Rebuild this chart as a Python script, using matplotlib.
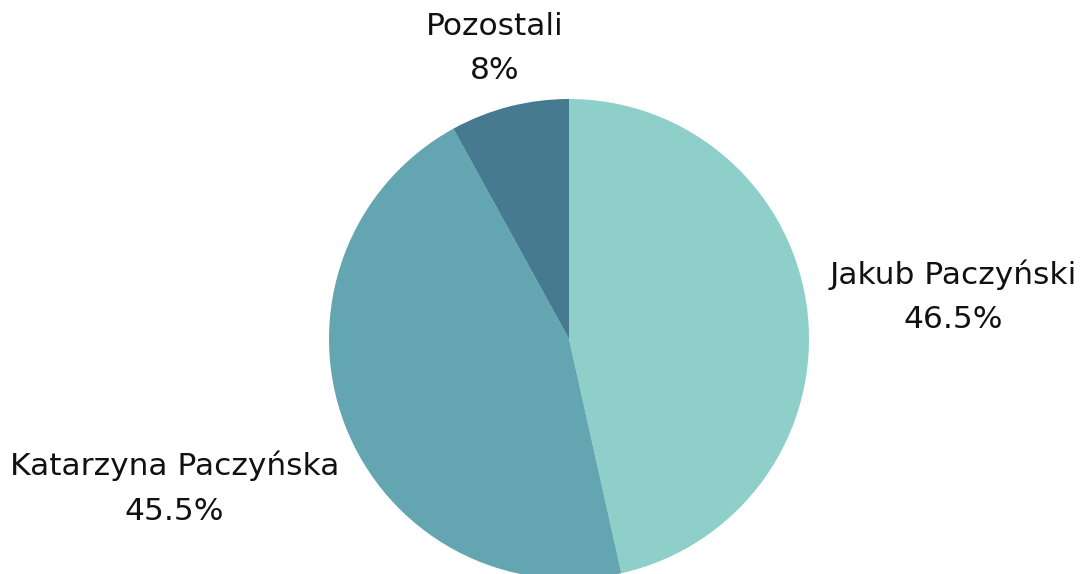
import numpy as np
import matplotlib.pyplot as plt

# Share of votes
names = ['Jakub Paczyński', 'Katarzyna Paczyńska', 'Pozostali']
shares = [46.5, 45.5, 8]
pct_labels = ['46.5%', '45.5%', '8%']
colors = ['#8ECFC9', '#63A5B0', '#457A91']
label_dist = [1.61, 1.757, 1.25]

plt.rcParams['font.family'] = ['DejaVu Sans']

fig = plt.figure(figsize=(10.87, 5.74), dpi=100)
ax = fig.add_axes([329 / 1087, -5 / 574, 480 / 1087, 480 / 574])

wedges, _ = ax.pie(shares, colors=colors, startangle=90, counterclock=False,
                   radius=1, wedgeprops=dict(linewidth=0))

for w, name, pct, d in zip(wedges, names, pct_labels, label_dist):
    ang = np.deg2rad((w.theta1 + w.theta2) / 2)
    ax.text(d * np.cos(ang), d * np.sin(ang), name + '\n' + pct,
            ha='center', va='center', fontsize=22.5, linespacing=1.68,
            color='#111111')

ax.set_xlim(-1, 1)
ax.set_ylim(-1, 1)
ax.set_aspect('equal')
ax.axis('off')

fig.savefig('out.png', dpi=100)
